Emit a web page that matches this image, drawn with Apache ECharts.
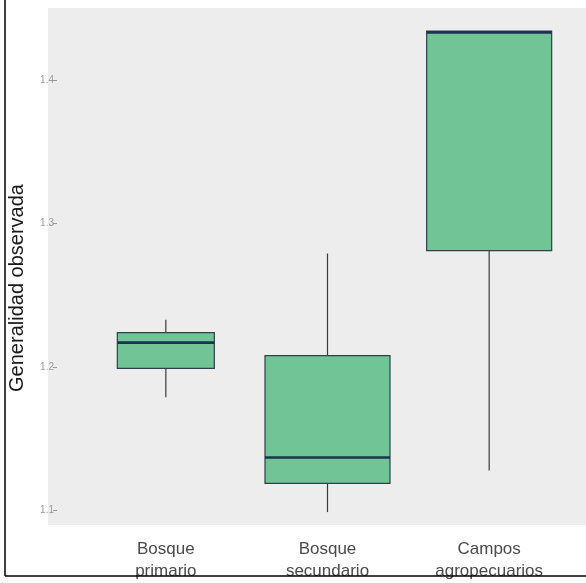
<!DOCTYPE html>
<html>
<head>
<meta charset="utf-8">
<script src="https://cdn.jsdelivr.net/npm/echarts@6/dist/echarts.min.js"></script>
<style>
  html, body { margin: 0; padding: 0; background: #ffffff; }
  #chart { width: 586px; height: 583px; }
</style>
</head>
<body>
<div id="chart"></div>
<script>
// Boxplot summary per land-use category
const categories = ['Bosque\nprimario', 'Bosque\nsecundario', 'Campos\nagropecuarios'];
const lowerWhisker = [1.179, 1.099, 1.128];
const q1Values     = [1.199, 1.119, 1.281];
const medianValues = [1.217, 1.137, 1.433];
const q3Values     = [1.224, 1.208, 1.434];
const upperWhisker = [1.233, 1.279, 1.434];
const yTicks = [1.1, 1.2, 1.3, 1.4];

// Box widths in pixels for each category
const boxWidths = [97, 125, 125];

const rows = categories.map((c, i) => [i, lowerWhisker[i], q1Values[i], medianValues[i], q3Values[i], upperWhisker[i]]);

const chart = echarts.init(document.getElementById('chart'), null, { renderer: 'canvas' });

function renderBox(params, api) {
  const idx = api.value(0);
  const pMin = api.coord([idx, api.value(1)]);
  const pQ1 = api.coord([idx, api.value(2)]);
  const pMed = api.coord([idx, api.value(3)]);
  const pQ3 = api.coord([idx, api.value(4)]);
  const pMax = api.coord([idx, api.value(5)]);
  const cx = pQ1[0];
  const half = boxWidths[params.dataIndex] / 2;
  const whiskerStyle = { stroke: '#3a3a3a', lineWidth: 1.2 };
  return {
    type: 'group',
    children: [
      { type: 'line', shape: { x1: cx, y1: pMin[1], x2: cx, y2: pQ1[1] }, style: whiskerStyle },
      { type: 'line', shape: { x1: cx, y1: pQ3[1], x2: cx, y2: pMax[1] }, style: whiskerStyle },
      { type: 'rect', shape: { x: cx - half, y: pQ3[1], width: half * 2, height: pQ1[1] - pQ3[1] },
        style: { fill: '#70c496', stroke: '#2f4048', lineWidth: 1.2 } },
      { type: 'line', shape: { x1: cx - half, y1: pMed[1], x2: cx + half, y2: pMed[1] },
        style: { stroke: '#1b3350', lineWidth: 2.6 } }
    ]
  };
}

chart.setOption({
  animation: false,
  backgroundColor: '#ffffff',
  grid: { left: 85, right: 16, top: 8, bottom: 58, containLabel: false },
  graphic: [
    { type: 'rect', z: -10, silent: true, shape: { x: 48, y: 8, width: 538, height: 517 }, style: { fill: '#ededed' } },
    { type: 'text', x: 17, y: 288, rotation: Math.PI / 2, silent: true,
      style: { text: 'Generalidad observada', font: '20px "Liberation Sans", Arial, sans-serif', fill: '#1a1a1a', align: 'center', verticalAlign: 'middle' } },
    { type: 'line', z: 100, silent: true, shape: { x1: 5, y1: 0, x2: 5, y2: 576 }, style: { stroke: '#000000', lineWidth: 1.5 } },
    { type: 'line', z: 100, silent: true, shape: { x1: 5, y1: 576, x2: 586, y2: 576 }, style: { stroke: '#000000', lineWidth: 1.5 } }
  ],
  xAxis: {
    type: 'category',
    data: categories,
    boundaryGap: true,
    axisLine: { show: false },
    axisTick: { show: false },
    splitLine: { show: false },
    axisLabel: {
      margin: 13,
      color: '#4a4a4a',
      fontSize: 17,
      lineHeight: 22,
      fontFamily: '"Liberation Sans", Arial, sans-serif'
    }
  },
  yAxis: {
    type: 'value',
    min: 1.09,
    max: 1.45,
    offset: 28,
    axisLine: { show: false },
    splitLine: { show: false },
    axisTick: { show: true, customValues: yTicks, length: 4, lineStyle: { color: '#9a9a9a', width: 1 } },
    axisLabel: {
      customValues: yTicks,
      margin: 3,
      color: '#9a9a9a',
      fontSize: 10,
      fontFamily: '"Liberation Sans", Arial, sans-serif',
      formatter: v => v.toFixed(1)
    }
  },
  series: [{
    type: 'custom',
    renderItem: renderBox,
    encode: { x: 0, y: [1, 2, 3, 4, 5] },
    data: rows,
    clip: false
  }]
});
</script>
</body>
</html>
